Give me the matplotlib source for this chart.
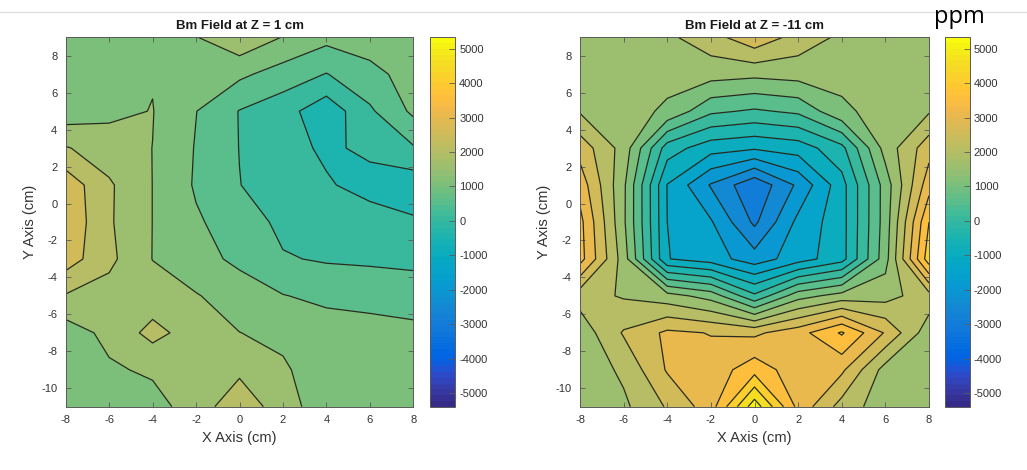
import numpy as np
import matplotlib
matplotlib.use("Agg")
import matplotlib.pyplot as plt
from matplotlib.colors import ListedColormap, Normalize
from matplotlib.cm import ScalarMappable
from matplotlib.lines import Line2D

# ---------------- data ----------------
x_cm = [-8, -6, -4, -2, 0, 2, 4, 6, 8]
y_cm = [9, 7, 5, 3, 1, -1, -3, -5, -7, -9, -11]

# Bm field (ppm) at Z = 1 cm, rows follow y_cm, columns follow x_cm
bm_z1 = [
    [1250, 1300, 1380, 1480, 1900, 1480, 1150, 1250, 1300],
    [1230, 1350, 1470, 1250, 1100, 780, 480, 850, 1200],
    [1190, 1390, 1515, 1010, 480, 200, -330, 420, 1100],
    [2040, 1730, 1496, 970, 490, 220, -100, 120, 450],
    [2820, 2070, 1495, 945, 510, 250, 60, -200, -310],
    [2900, 2060, 1495, 1060, 760, 380, 280, 250, 70],
    [2750, 2120, 1490, 1200, 880, 540, 450, 420, 380],
    [1960, 1800, 1720, 1530, 1280, 1020, 880, 820, 760],
    [1240, 1640, 2160, 1760, 1505, 1400, 1250, 1200, 1130],
    [1150, 1430, 1580, 1750, 1900, 1560, 1250, 1200, 1150],
    [1100, 1300, 1300, 1750, 2330, 1730, 1200, 1180, 1150],
]

# Bm field (ppm) at Z = -11 cm
bm_zm11 = [
    [1750, 1800, 1900, 2300, 2870, 2300, 1900, 1800, 1750],
    [1800, 1750, 1650, 1700, 1620, 1700, 1650, 1750, 1800],
    [1950, 1700, 1420, 600, 430, 600, 1400, 1700, 1950],
    [2800, 1800, -250, -800, -937, -780, -150, 1700, 2800],
    [3300, 1600, -1020, -2045, -2900, -1902, -697, 1222, 3300],
    [3650, 1590, -1000, -1450, -2600, -1370, -700, 1230, 4000],
    [3700, 1750, -980, -1250, -1780, -1230, -700, 1300, 4300],
    [2200, 1950, 1700, 1300, 100, 1300, 1700, 1800, 2300],
    [1700, 2550, 3100, 2980, 2900, 3300, 4060, 2950, 1700],
    [1650, 2100, 3050, 3200, 3800, 3200, 3100, 1800, 1650],
    [1600, 1900, 2550, 3270, 5300, 3350, 2300, 1700, 1600],
]

titles = ["Bm Field at Z = 1 cm", "Bm Field at Z = -11 cm"]
contour_levels = list(range(-5000, 5501, 500))
cbar_ticks = list(range(-5000, 5001, 1000))
clim = (-5400, 5330)

# ---------------- parula colormap ----------------
parula_rgb = [
    [0.2081, 0.1663, 0.5292], [0.2116, 0.1898, 0.5777], [0.2123, 0.2138, 0.6270],
    [0.2081, 0.2386, 0.6771], [0.1959, 0.2645, 0.7279], [0.1707, 0.2919, 0.7792],
    [0.1253, 0.3242, 0.8303], [0.0591, 0.3598, 0.8683], [0.0117, 0.3875, 0.8820],
    [0.0060, 0.4086, 0.8828], [0.0165, 0.4266, 0.8786], [0.0329, 0.4430, 0.8720],
    [0.0498, 0.4586, 0.8641], [0.0629, 0.4737, 0.8554], [0.0723, 0.4887, 0.8467],
    [0.0779, 0.5040, 0.8384], [0.0793, 0.5200, 0.8312], [0.0749, 0.5375, 0.8263],
    [0.0641, 0.5570, 0.8240], [0.0488, 0.5772, 0.8228], [0.0343, 0.5966, 0.8199],
    [0.0265, 0.6137, 0.8135], [0.0239, 0.6287, 0.8038], [0.0231, 0.6418, 0.7913],
    [0.0228, 0.6535, 0.7768], [0.0267, 0.6642, 0.7607], [0.0384, 0.6743, 0.7436],
    [0.0590, 0.6838, 0.7254], [0.0843, 0.6928, 0.7062], [0.1133, 0.7015, 0.6859],
    [0.1453, 0.7098, 0.6646], [0.1801, 0.7177, 0.6424], [0.2178, 0.7250, 0.6193],
    [0.2586, 0.7317, 0.5954], [0.3022, 0.7376, 0.5712], [0.3482, 0.7424, 0.5473],
    [0.3953, 0.7459, 0.5244], [0.4420, 0.7481, 0.5033], [0.4871, 0.7491, 0.4840],
    [0.5300, 0.7491, 0.4661], [0.5709, 0.7485, 0.4494], [0.6099, 0.7473, 0.4337],
    [0.6473, 0.7456, 0.4188], [0.6834, 0.7435, 0.4044], [0.7184, 0.7411, 0.3905],
    [0.7525, 0.7384, 0.3768], [0.7858, 0.7356, 0.3633], [0.8185, 0.7327, 0.3498],
    [0.8507, 0.7299, 0.3360], [0.8824, 0.7274, 0.3217], [0.9139, 0.7258, 0.3063],
    [0.9450, 0.7261, 0.2886], [0.9739, 0.7314, 0.2666], [0.9938, 0.7455, 0.2403],
    [0.9990, 0.7653, 0.2164], [0.9955, 0.7861, 0.1967], [0.9880, 0.8066, 0.1794],
    [0.9789, 0.8271, 0.1633], [0.9697, 0.8481, 0.1475], [0.9626, 0.8705, 0.1309],
    [0.9589, 0.8949, 0.1132], [0.9598, 0.9218, 0.0948], [0.9661, 0.9514, 0.0755],
    [0.9763, 0.9831, 0.0538],
]
parula = ListedColormap(parula_rgb, name="parula")
norm = Normalize(vmin=clim[0], vmax=clim[1])

plt.rcParams["font.family"] = ["Liberation Sans", "DejaVu Sans"]
plt.rcParams["axes.unicode_minus"] = False

TXT = (0.2, 0.2, 0.2)
AXC = (0.35, 0.35, 0.35)

fig = plt.figure(figsize=(10.27, 4.70), dpi=100)

# separator line at the top of the figure
fig.add_artist(Line2D([0, 1], [1 - 11.5 / 470, 1 - 11.5 / 470],
                      transform=fig.transFigure, color=(0.88, 0.88, 0.88), lw=1.0))

X, Y = np.meshgrid(np.array(x_cm, float), np.array(y_cm, float))
band_colors = [parula(norm(min(lv, clim[1]))) for lv in contour_levels[:-1]]

ax_boxes = [[65.7 / 1027, 63.3 / 470, 347.6 / 1027, 369.4 / 470],
            [580.0 / 1027, 63.3 / 470, 349.0 / 1027, 369.4 / 470]]
cb_boxes = [[430.0 / 1027, 63.3 / 470, 25.0 / 1027, 369.4 / 470],
            [945.0 / 1027, 63.3 / 470, 24.5 / 1027, 369.4 / 470]]

for data, title, abox, cbox in zip([bm_z1, bm_zm11], titles, ax_boxes, cb_boxes):
    Z = np.array(data, float)
    ax = fig.add_axes(abox)
    ax.contourf(X, Y, Z, levels=contour_levels, colors=band_colors)
    ax.contour(X, Y, Z, levels=contour_levels, colors=[(0.15, 0.17, 0.12)],
               linewidths=0.9, linestyles="solid")
    ax.set_xlim(-8, 8)
    ax.set_ylim(-11, 9)
    ax.set_xticks(list(range(-8, 9, 2)))
    ax.set_yticks(list(range(-10, 9, 2)))
    ax.tick_params(direction="in", top=True, right=True, length=3.5, width=0.6,
                   labelsize=8, colors=AXC, labelcolor=TXT, pad=6)
    for sp in ax.spines.values():
        sp.set_color(AXC)
        sp.set_linewidth(0.7)
    ax.set_xlabel("X Axis (cm)", fontsize=10.5, color=TXT, labelpad=4)
    ax.set_ylabel("Y Axis (cm)", fontsize=10.5, color=TXT, labelpad=3)
    ax.set_title(title, fontsize=9.5, fontweight="bold", color=(0.1, 0.1, 0.1), pad=6)

    cax = fig.add_axes(cbox)
    cb = fig.colorbar(ScalarMappable(norm=norm, cmap=parula), cax=cax)
    cb.set_ticks(cbar_ticks)
    cb.outline.set_edgecolor(AXC)
    cb.outline.set_linewidth(0.7)
    cax.tick_params(direction="in", length=4, width=0.6, labelsize=8,
                    colors=AXC, labelcolor=TXT, pad=3)

fig.text(959 / 1027, 1 - 17 / 470, "ppm", fontsize=17, color="black",
         ha="center", va="center", family=["Open Sans", "DejaVu Sans"])

fig.savefig("out.png", dpi=100)
